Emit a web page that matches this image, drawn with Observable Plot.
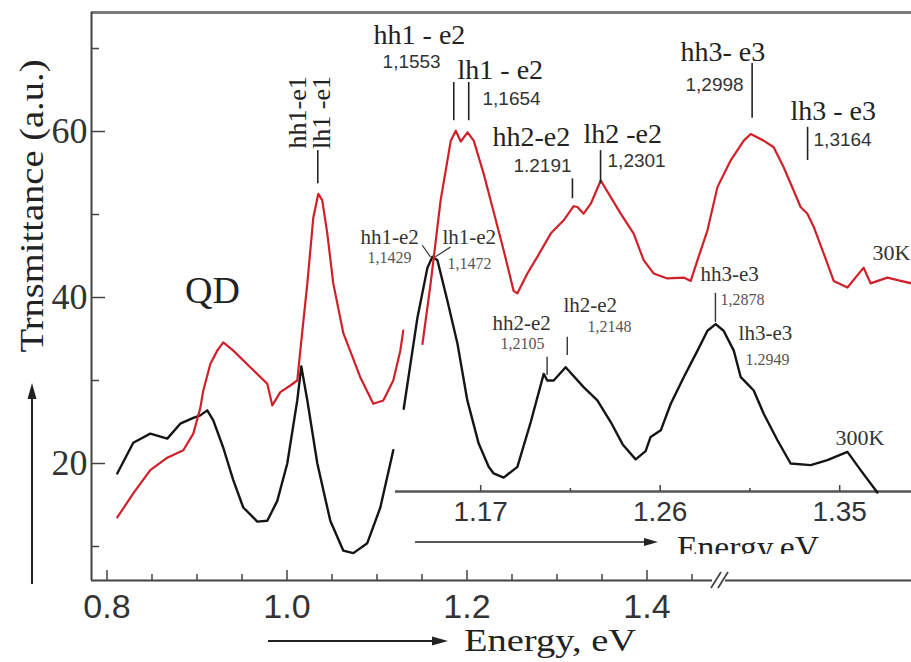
<!DOCTYPE html>
<html><head><meta charset="utf-8">
<script src="https://cdn.jsdelivr.net/npm/d3@7"></script>
<script src="https://cdn.jsdelivr.net/npm/@observablehq/plot@0.6"></script>
<style>
html,body{margin:0;padding:0;background:#fff;}
#wrap{position:relative;width:911px;height:662px;overflow:hidden;background:#fff;}
#wrap svg{position:absolute;left:0;top:0;}
</style></head><body><div id="wrap"></div>
<script>
// ---------- DATA ----------
// Main panel (wide energy axis), 300K (black) and 30K (red)
const black300K_mainE = [0.8114,0.8292,0.8481,0.8670,0.8814,0.8959,0.9037,0.9114,0.9181,0.9292,0.9403,0.9514,0.9670,0.9781,0.9892,1.0003,1.0114,1.0159,1.0226,1.0337,1.0481,1.0626,1.0737,1.0892,1.1037,1.1181];
const black300K_mainV = [18.8,22.5,23.6,23.0,24.8,25.5,25.8,26.4,25.2,21.9,18.0,14.7,13.0,13.1,15.5,20.0,27.6,31.7,27.6,20.0,13.1,9.5,9.2,10.4,14.7,21.6];
const red30K_mainE = [0.8114,0.8292,0.8481,0.8670,0.8848,0.8959,0.9037,0.9070,0.9148,0.9225,0.9292,0.9403,0.9592,0.9781,0.9837,0.9926,1.0037,1.0114,1.0148,1.0226,1.0292,1.0348,1.0392,1.0448,1.0514,1.0626,1.0814,1.0959,1.1070,1.1181,1.1259,1.1292];
const red30K_mainV = [13.5,16.4,19.2,20.7,21.6,23.6,26.7,28.8,32.0,33.6,34.6,33.6,31.6,29.6,27.0,28.6,29.4,30.0,33.6,41.7,49.6,52.5,51.7,47.7,41.7,35.7,30.4,27.2,27.6,30.0,33.6,36.0];

// Inset (expanded energy axis)
const black300K_insetE = [1.1314,1.1383,1.1433,1.1458,1.1483,1.1533,1.1583,1.1633,1.1690,1.1740,1.1765,1.1815,1.1884,1.1951,1.2016,1.2034,1.2066,1.2126,1.2216,1.2285,1.2352,1.2412,1.2477,1.2527,1.2552,1.2603,1.2653,1.2718,1.2787,1.2837,1.2878,1.2918,1.2969,1.3004,1.3037,1.3069,1.3119,1.3188,1.3254,1.3355,1.3438,1.3539,1.3605,1.3689];
const black300K_insetV = [26.6,37.6,43.6,44.9,44.5,39.6,34.5,27.6,22.4,19.6,18.8,18.3,19.6,25.0,30.8,30.0,30.0,31.6,29.2,27.6,25.0,22.3,20.5,21.5,23.2,24.0,27.2,30.4,33.6,36.0,36.8,36.0,33.6,30.4,29.6,28.8,26.0,22.8,20.0,19.8,20.4,21.4,19.2,16.5];
const red30K_insetE = [1.1408,1.1449,1.1499,1.1550,1.1575,1.1600,1.1634,1.1665,1.1715,1.1750,1.1815,1.1865,1.1884,1.1934,1.1984,1.2051,1.2116,1.2166,1.2185,1.2216,1.2252,1.2302,1.2352,1.2402,1.2467,1.2517,1.2567,1.2636,1.2718,1.2753,1.2787,1.2837,1.2887,1.2953,1.3019,1.3054,1.3119,1.3169,1.3219,1.3269,1.3304,1.3338,1.3370,1.3420,1.3470,1.3539,1.3620,1.3655,1.3739,1.3806,1.3861];
const red30K_insetV = [34.4,41.7,51.7,58.9,60.1,58.8,59.9,58.9,54.9,51.7,45.7,40.8,40.5,42.9,44.9,47.7,49.3,51.0,50.9,50.1,51.3,54.1,52.1,50.1,47.7,44.5,42.9,42.3,42.4,42.0,44.5,48.1,53.3,56.5,58.9,59.7,58.9,58.1,55.7,52.9,50.9,50.1,48.5,45.3,42.0,41.2,43.6,41.7,42.4,42.0,41.7];

// Axis ticks
const mainXTicks = [0.8,0.85,0.9,0.95,1.0,1.05,1.1,1.15,1.2,1.25,1.3,1.35,1.4,1.45];
const mainXLabels = [0.8,1.0,1.2,1.4];
const mainYTicks = [10,20,30,40,50,60,70];
const mainYLabels = [20,40,60];
const insetXTicks = [1.17,1.215,1.26,1.305,1.35];
const insetXLabels = [1.17,1.26,1.35];

// Annotations, main panel
const qdLabel = [{t:"QD", e:0.9172, v:39.3}];
const e1Labels = [{t:"hh1-e1", e:1.0117, v:62.3},{t:"lh1 -e1", e:1.0383, v:62.3}];
const e1Marker = [{e:1.0342, v1:57.7, v2:53.7}];

// Annotations, inset: 30K (red curve)
const red30K_names = [["hh1 - e2",1.1163,70.6],["lh1 - e2",1.1584,66.3],["hh2-e2",1.1759,58.2],["lh2 -e2",1.2215,58.6],["hh3- e3",1.2702,68.5],["lh3 - e3",1.3253,61.4]];
const red30K_nums  = [["1,1553",1.1208,67.6],["1,1654",1.1709,63.2],["1.2191",1.1864,55.1],["1,2301",1.2336,55.7],["1,2998",1.2727,64.9],["1,3164",1.3369,58.2]];
const red30K_marks = [[1.1565,65.9,61.3],[1.1640,65.9,61.3],[1.2160,54.3,51.9],[1.2301,57.7,53.7],[1.3061,68.2,61.6],[1.3339,60.5,56.5]];
// Annotations, inset: 300K (black curve)
const black300K_names = [["hh1-e2",1.1097,46.5],["lh1-e2",1.1508,46.5],["hh2-e2",1.1759,36.1],["lh2-e2",1.2115,38.3],["hh3-e3",1.2802,42.0],["lh3-e3",1.2993,34.9]];
const black300K_nums  = [["1,1429",1.1132,44.1],["1,1472",1.1534,43.4],["1,2105",1.1799,33.8],["1,2148",1.2236,35.9],["1,2878",1.2902,39.1],["1.2949",1.3028,31.9]];
const black300K_marks = [[1.2033,32.8,30.6],[1.2134,35.2,33.0],[1.2877,40.5,37.0]];
const black300K_leaders = [[1.1407,46.3,1.1448,44.9],[1.1549,46.1,1.1473,44.9]];
const tempLabels = [{t:"30K", e:1.3665, v:44.5},{t:"300K", e:1.3479, v:22.2}];

// ---------- BUILD ----------
const zip = (E,V) => E.map((e,i)=>({e, v:V[i]}));
const W=911, H=662;
const serif = "'Liberation Serif','Times New Roman',serif";
const sans = "'Liberation Sans',Arial,sans-serif";
const RED = "#d0202a", BLK = "#151515";

const mainXDom = [0.78278, 1.69389], mainYDom = [5.904, 74.34];
const insetXDom = [1.12728, 1.38601], insetYDom = [16.627, 74.34];
const mTop=12, mBot=82, iBot=171, mLeft=91, iLeft=395;
const mainPlotH = H-mTop-mBot, mainPlotW = W-mLeft, insetPlotH = H-mTop-iBot;
const breakL = 1.4728, breakR = 1.4872;

const mainPlot = Plot.plot({
  width:W, height:H, marginLeft:mLeft, marginRight:0, marginTop:mTop, marginBottom:mBot,
  x:{domain:mainXDom, axis:null}, y:{domain:mainYDom, axis:null},
  style:{background:"transparent", overflow:"visible"},
  marks:[
    Plot.ruleY([mainYDom[1]], {stroke:"#7a7a7a", strokeWidth:3}),
    Plot.ruleX([mainXDom[0]], {stroke:"#444", strokeWidth:2}),
    Plot.ruleY([mainYDom[0]], {x1:mainXDom[0], x2:breakL, stroke:"#444", strokeWidth:2}),
    Plot.ruleY([mainYDom[0]], {x1:breakR, x2:mainXDom[1], stroke:"#444", strokeWidth:2}),
    Plot.tickX(mainXTicks.filter(d=>!mainXLabels.includes(d)), {x:d=>d, stroke:"#444", strokeWidth:1.5, insetTop:mainPlotH-6}),
    Plot.tickX(mainXLabels, {x:d=>d, stroke:"#444", strokeWidth:1.5, insetTop:mainPlotH-10}),
    Plot.tickY(mainYTicks.filter(d=>!mainYLabels.includes(d)), {y:d=>d, stroke:"#444", strokeWidth:1.5, insetRight:mainPlotW-8}),
    Plot.tickY(mainYLabels, {y:d=>d, stroke:"#444", strokeWidth:1.5, insetRight:mainPlotW-14}),
    Plot.text(mainXLabels, {x:d=>d, text:d=>d.toFixed(1), frameAnchor:"bottom", dy:27, lineAnchor:"middle", fontSize:34, fontFamily:sans, fill:"#333"}),
    Plot.text(mainYLabels, {y:d=>d, text:d=>String(d), frameAnchor:"left", dx:-4, textAnchor:"end", lineAnchor:"middle", fontSize:36, fontFamily:serif, fill:"#333"}),
    Plot.line(zip(black300K_mainE, black300K_mainV), {x:"e", y:"v", stroke:BLK, strokeWidth:2.4, strokeLinejoin:"round"}),
    Plot.line(zip(red30K_mainE, red30K_mainV), {x:"e", y:"v", stroke:RED, strokeWidth:2.2, strokeLinejoin:"round"}),
    Plot.text(qdLabel, {x:"e", y:"v", text:"t", fontSize:38, fontFamily:serif, fill:"#222", lineAnchor:"bottom"}),
    Plot.text(e1Labels, {x:"e", y:"v", text:"t", rotate:-90, fontSize:26, fontFamily:serif, fill:"#222", lineAnchor:"middle"}),
    Plot.ruleX(e1Marker, {x:"e", y1:"v1", y2:"v2", stroke:"#222", strokeWidth:1.6})
  ]
});

const insetPlot = Plot.plot({
  width:W, height:H, marginLeft:iLeft, marginRight:0, marginTop:mTop, marginBottom:iBot,
  x:{domain:insetXDom, axis:null}, y:{domain:insetYDom, axis:null},
  style:{background:"transparent", overflow:"visible"},
  marks:[
    Plot.ruleY([insetYDom[0]], {stroke:"#555", strokeWidth:2.5}),
    Plot.tickX(insetXTicks.filter(d=>!insetXLabels.includes(d)), {x:d=>d, stroke:"#444", strokeWidth:1.5, insetTop:insetPlotH-3}),
    Plot.tickX(insetXLabels, {x:d=>d, stroke:"#444", strokeWidth:1.5, insetTop:insetPlotH-6}),
    Plot.text(insetXLabels, {x:d=>d, text:d=>d.toFixed(2), frameAnchor:"bottom", dy:21, lineAnchor:"middle", fontSize:28, fontFamily:sans, fill:"#333"}),
    Plot.line(zip(black300K_insetE, black300K_insetV), {x:"e", y:"v", stroke:BLK, strokeWidth:2.4, strokeLinejoin:"round"}),
    Plot.line(zip(red30K_insetE, red30K_insetV), {x:"e", y:"v", stroke:RED, strokeWidth:2.2, strokeLinejoin:"round"}),
    Plot.text(red30K_names, {x:d=>d[1], y:d=>d[2], text:d=>d[0], textAnchor:"start", lineAnchor:"bottom", fontSize:28, fontFamily:serif, fill:"#222"}),
    Plot.text(red30K_nums, {x:d=>d[1], y:d=>d[2], text:d=>d[0], textAnchor:"start", lineAnchor:"bottom", fontSize:19, fontFamily:sans, fill:"#333"}),
    Plot.ruleX(red30K_marks, {x:d=>d[0], y1:d=>d[1], y2:d=>d[2], stroke:"#222", strokeWidth:1.6}),
    Plot.text(black300K_names, {x:d=>d[1], y:d=>d[2], text:d=>d[0], textAnchor:"start", lineAnchor:"bottom", fontSize:21, fontFamily:serif, fill:"#333"}),
    Plot.text(black300K_nums, {x:d=>d[1], y:d=>d[2], text:d=>d[0], textAnchor:"start", lineAnchor:"bottom", fontSize:16, fontFamily:serif, fill:"#555"}),
    Plot.ruleX(black300K_marks, {x:d=>d[0], y1:d=>d[1], y2:d=>d[2], stroke:"#333", strokeWidth:1.4}),
    Plot.link(black300K_leaders, {x1:d=>d[0], y1:d=>d[1], x2:d=>d[2], y2:d=>d[3], stroke:"#333", strokeWidth:1.2}),
    Plot.text(tempLabels, {x:"e", y:"v", text:"t", textAnchor:"start", lineAnchor:"bottom", fontSize:22, fontFamily:serif, fill:"#333"})
  ]
});

const wrap = document.getElementById("wrap");
wrap.appendChild(mainPlot);
wrap.appendChild(insetPlot);

// ---------- decorations: titles, arrows, axis break ----------
const svg = d3.select(mainPlot);
const defs = svg.append("defs");
defs.append("clipPath").attr("id","clipInsetTitle").append("rect").attr("x",600).attr("y",500).attr("width",300).attr("height",54);

function arrow(x1, y1, x2, y2, w, headL, headW) {
  const dx = x2-x1, dy = y2-y1, L = Math.hypot(dx,dy), ux = dx/L, uy = dy/L;
  const bx = x2-ux*headL, by = y2-uy*headL;
  svg.append("line").attr("x1",x1).attr("y1",y1).attr("x2",bx).attr("y2",by)
    .attr("stroke","#222").attr("stroke-width",w);
  svg.append("path").attr("d",`M${x2},${y2}L${bx-uy*headW},${by+ux*headW}L${bx+uy*headW},${by-ux*headW}Z`)
    .attr("fill","#222").attr("stroke","none");
}

// y title + arrow
svg.append("text").attr("transform","translate(31,206) rotate(-90)")
  .attr("text-anchor","middle").attr("dominant-baseline","central")
  .attr("font-family",serif).attr("font-size",34).attr("fill","#222")
  .attr("textLength",293).attr("lengthAdjust","spacingAndGlyphs")
  .text("Trnsmittance (a.u.)");
arrow(32, 584, 32, 383, 2, 16, 4.5);

// x title + arrow
arrow(268, 641, 448, 641, 2, 16, 4.5);
svg.append("text").attr("x",464).attr("y",651).attr("text-anchor","start")
  .attr("font-family",serif).attr("font-size",31).attr("fill","#222")
  .attr("textLength",172).attr("lengthAdjust","spacingAndGlyphs")
  .text("Energy, eV");

// inset title + arrow
arrow(415, 542, 658, 542, 1.6, 14, 4);
svg.append("text").attr("x",677).attr("y",558).attr("text-anchor","start").attr("clip-path","url(#clipInsetTitle)")
  .attr("font-family",serif).attr("font-size",32).attr("fill","#222")
  .attr("textLength",142).attr("lengthAdjust","spacingAndGlyphs")
  .text("Energy,eV");

// axis break marks
[0,7].forEach(o=>{
  svg.append("line").attr("x1",711+o).attr("y1",588).attr("x2",721+o).attr("y2",572)
    .attr("stroke","#444").attr("stroke-width",1.8);
});
</script></body></html>
